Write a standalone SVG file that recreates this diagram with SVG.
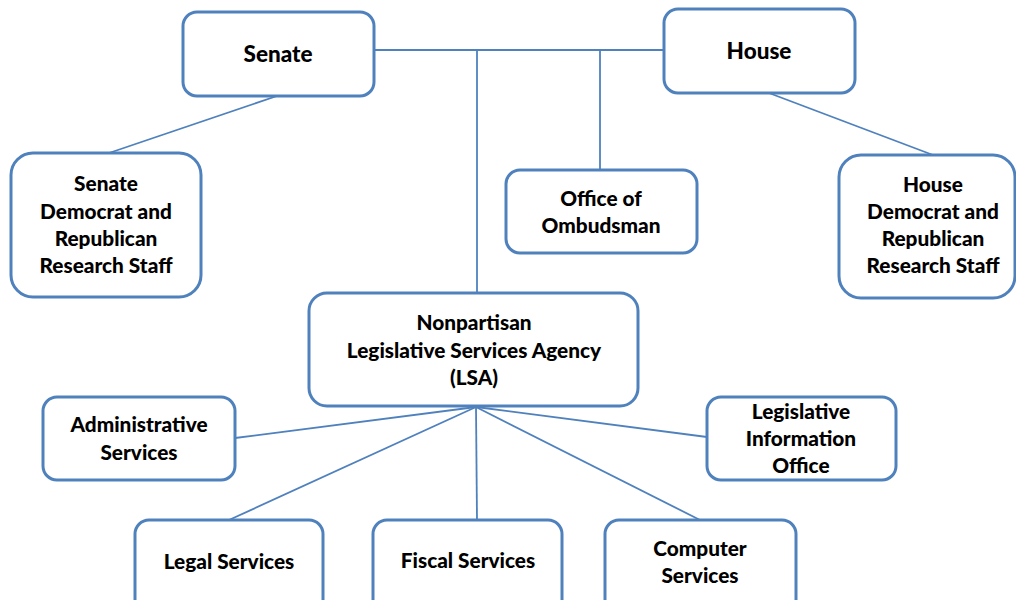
<svg xmlns="http://www.w3.org/2000/svg" width="1016" height="600" viewBox="0 0 1016 600">
<style>
.box{fill:#fff;stroke:#4F81BD;stroke-width:3}
.ln{stroke:#4F81BD;stroke-width:1.8;fill:none}
text{font-family:Lato,"Liberation Sans",sans-serif;font-weight:900;font-size:20.8px;fill:#000;text-anchor:middle}
.big{font-size:22.5px}
</style>
<rect width="1016" height="600" fill="#fff"/>
<g id="connectors">
<line class="ln" x1="374" y1="50" x2="664" y2="50"/>
<line class="ln" x1="477" y1="50" x2="477" y2="293"/>
<line class="ln" x1="600" y1="50" x2="600" y2="170"/>
<line class="ln" x1="277" y1="96" x2="109" y2="153"/>
<line class="ln" x1="769" y1="93" x2="933" y2="155"/>
<line class="ln" x1="476" y1="407" x2="235" y2="438"/>
<line class="ln" x1="476" y1="407" x2="707" y2="437"/>
<line class="ln" x1="476" y1="407" x2="229" y2="520"/>
<line class="ln" x1="476" y1="407" x2="477" y2="520"/>
<line class="ln" x1="476" y1="407" x2="700" y2="520"/>
</g>
<g id="senate"><rect class="box" x="183" y="12" width="191" height="84" rx="14"/><text class="big" x="278" y="62">Senate</text></g>
<g id="house"><rect class="box" x="664" y="9" width="191" height="84" rx="14"/><text class="big" x="759" y="59">House</text></g>
<g id="senate-staff"><rect class="box" x="11" y="153" width="190" height="144" rx="22"/>
<text x="106" y="191">Senate</text><text x="106" y="219">Democrat and</text><text x="106" y="246">Republican</text><text x="106" y="273">Research Staff</text></g>
<g id="house-staff"><rect class="box" x="839" y="155" width="176" height="143" rx="22"/>
<text x="933" y="192">House</text><text x="933" y="219">Democrat and</text><text x="933" y="246">Republican</text><text x="933" y="273">Research Staff</text></g>
<g id="ombudsman"><rect class="box" x="506" y="170" width="191" height="83" rx="14"/>
<text x="601" y="206">Office of</text><text x="601" y="233">Ombudsman</text></g>
<g id="lsa"><rect class="box" x="309" y="293" width="329" height="113" rx="18"/>
<text x="474" y="330">Nonpartisan</text><text x="474" y="358">Legislative Services Agency</text><text x="474" y="385">(LSA)</text></g>
<g id="admin"><rect class="box" x="43" y="397" width="192" height="83" rx="14"/>
<text x="139" y="432">Administrative</text><text x="139" y="460">Services</text></g>
<g id="leginfo"><rect class="box" x="707" y="397" width="189" height="83" rx="14"/>
<text x="801" y="419">Legislative</text><text x="801" y="446">Information</text><text x="801" y="473">Office</text></g>
<g id="legal"><rect class="box" x="135" y="520" width="188" height="100" rx="14"/><text x="229" y="569">Legal Services</text></g>
<g id="fiscal"><rect class="box" x="373" y="520" width="189" height="100" rx="14"/><text x="468" y="568">Fiscal Services</text></g>
<g id="computer"><rect class="box" x="605" y="520" width="191" height="100" rx="14"/>
<text x="700" y="556">Computer</text><text x="700" y="583">Services</text></g>
</svg>
